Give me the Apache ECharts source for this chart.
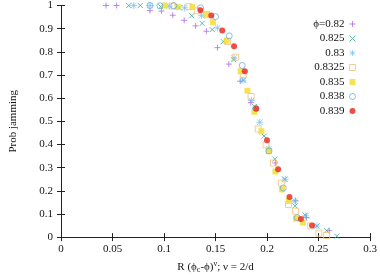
<!DOCTYPE html>
<html>
<head>
<meta charset="utf-8">
<script src="https://cdn.jsdelivr.net/npm/echarts@6/dist/echarts.min.js"></script>
<style>html,body{margin:0;padding:0;background:#fff}#c{width:380px;height:279px}</style>
</head>
<body>
<div id="c"></div>
<script>
// ---- data ----
const xTicks = [0, 0.05, 0.1, 0.15, 0.2, 0.25, 0.3];
const yTicks = [0, 0.1, 0.2, 0.3, 0.4, 0.5, 0.6, 0.7, 0.8, 0.9, 1];
const seriesNames = ['\u03d5=0.82', '0.825', '0.83', '0.8325', '0.835', '0.838', '0.839'];

const phi0820X = [0.0437, 0.054, 0.0864, 0.0975, 0.1085, 0.1196, 0.1307, 0.1411, 0.1519, 0.163, 0.174, 0.1842, 0.208, 0.2275, 0.2383, 0.2604];
const phi0820Y = [1.0, 1.0, 0.978, 0.976, 0.958, 0.936, 0.912, 0.889, 0.818, 0.747, 0.673, 0.581, 0.32, 0.157, 0.084, 0.028];

const phi0825X = [0.0658, 0.077, 0.0968, 0.115, 0.1269, 0.137, 0.1468, 0.1576, 0.1677, 0.1772, 0.188, 0.1972, 0.2076, 0.2171, 0.2272, 0.237, 0.2484, 0.2579, 0.2677];
const phi0825Y = [1.0, 1.0, 0.995, 0.99, 0.956, 0.923, 0.896, 0.844, 0.766, 0.678, 0.564, 0.436, 0.337, 0.25, 0.135, 0.095, 0.048, 0.028, 0.004];

const phi0830X = [0.0706, 0.0864, 0.105, 0.12, 0.1364, 0.152, 0.168, 0.1766, 0.185, 0.193, 0.2019, 0.2177, 0.2272, 0.2376, 0.2484];
const phi0830Y = [1.0, 1.0, 0.997, 0.99, 0.956, 0.903, 0.773, 0.677, 0.59, 0.496, 0.382, 0.25, 0.156, 0.092, 0.048];

const phi08325X = [0.108, 0.124, 0.1323, 0.1417, 0.1617, 0.1696, 0.1769, 0.1845, 0.1915, 0.199, 0.2063, 0.2139, 0.2209, 0.2278, 0.2424, 0.2503, 0.2579];
const phi08325Y = [0.998, 0.995, 0.977, 0.96, 0.845, 0.777, 0.703, 0.607, 0.467, 0.398, 0.32, 0.233, 0.141, 0.112, 0.048, 0.017, 0.007];

const phi0835X = [0.1006, 0.1133, 0.1275, 0.141, 0.1475, 0.1608, 0.1744, 0.181, 0.1877, 0.1946, 0.2016, 0.2082, 0.2146, 0.2212, 0.2281, 0.2348];
const phi0835Y = [1.0, 0.994, 0.993, 0.962, 0.928, 0.848, 0.716, 0.632, 0.541, 0.457, 0.371, 0.283, 0.206, 0.156, 0.080, 0.0625];

const phi0838X = [0.0864, 0.096, 0.1095, 0.1355, 0.15, 0.1633, 0.1759, 0.189, 0.2019, 0.2158, 0.2294];
const phi0838Y = [1.0, 0.999, 0.999, 0.99, 0.952, 0.869, 0.741, 0.557, 0.372, 0.212, 0.084];

const phi0839X = [0.1354, 0.1459, 0.1566, 0.168, 0.1785, 0.1896, 0.2, 0.2108, 0.2218, 0.2329, 0.2437];
const phi0839Y = [0.979, 0.957, 0.892, 0.824, 0.716, 0.554, 0.418, 0.293, 0.173, 0.078, 0.050];

// ---- styling ----
const FONT = 'Liberation Serif';
const PLUS = 'path://M0,5L10,5M5,0L5,10';
const CROSS = 'path://M0,0L10,10M10,0L0,10';
const STAR = 'path://M0,5L10,5M5,0L5,10M1,1L9,9M9,1L1,9';
const NOFILL = 'rgba(255,255,255,0)';

const zip = (xs, ys) => xs.map((x, i) => [x, ys[i]]);
const allX = [phi0820X, phi0825X, phi0830X, phi08325X, phi0835X, phi0838X, phi0839X];
const allY = [phi0820Y, phi0825Y, phi0830Y, phi08325Y, phi0835Y, phi0838Y, phi0839Y];
const styles = [
  {symbol: PLUS, size: 6, itemStyle: {color: NOFILL, borderColor: '#b36ae0', borderWidth: 1}},
  {symbol: CROSS, size: 5, itemStyle: {color: NOFILL, borderColor: '#3aae8c', borderWidth: 1}},
  {symbol: STAR, size: 7, itemStyle: {color: NOFILL, borderColor: '#6cbdec', borderWidth: 0.8}},
  {symbol: 'rect', size: 6, itemStyle: {color: NOFILL, borderColor: '#f0c27a', borderWidth: 1}},
  {symbol: 'rect', size: 6, itemStyle: {color: '#f2dc2a', borderWidth: 0}},
  {symbol: 'circle', size: 6, itemStyle: {color: NOFILL, borderColor: '#5ea6de', borderWidth: 0.9}},
  {symbol: 'circle', size: 6, itemStyle: {color: '#e8231a', borderWidth: 0}}
];

const series = seriesNames.map((name, i) => ({
  name: name,
  type: 'scatter',
  xAxisIndex: 0,
  yAxisIndex: 0,
  clip: false,
  symbol: styles[i].symbol,
  symbolSize: styles[i].size,
  itemStyle: styles[i].itemStyle,
  data: zip(allX[i], allY[i])
}));

const legendData = seriesNames.map((name, i) => ({
  name: name,
  icon: styles[i].symbol,
  itemStyle: Object.assign({}, styles[i].itemStyle)
}));

const axisLineStyle = {show: true, lineStyle: {color: '#222', width: 1}};
const tickStyle = {show: true, inside: true, length: 4, lineStyle: {color: '#222', width: 1}};
const labelStyle = {fontFamily: FONT, fontSize: 11, color: '#111'};

const chart = echarts.init(document.getElementById('c'), null, {renderer: 'canvas'});
chart.setOption({
  backgroundColor: '#fff',
  animation: false,
  grid: {left: 54, right: 10, top: 4, bottom: 40, containLabel: false},
  legend: {
    orient: 'vertical',
    right: 19,
    top: 13,
    align: 'right',
    itemWidth: 6,
    itemHeight: 6,
    itemGap: 2.5,
    selectedMode: false,
    data: legendData,
    textStyle: {fontFamily: FONT, fontSize: 11, color: '#111', lineHeight: 12, width: 50, align: 'right'}
  },
  xAxis: [
    {
      type: 'value', position: 'bottom', min: xTicks[0], max: xTicks[xTicks.length - 1], interval: 0.05,
      splitLine: {show: false}, axisLine: axisLineStyle, axisTick: tickStyle,
      axisLabel: Object.assign({margin: 7}, labelStyle),
      name: '{a|R (\u03d5}{sub|c}{a|-\u03d5)}{sup|\u03bd}{a|; \u03bd = 2/d}',
      nameLocation: 'middle', nameGap: 22,
      nameTextStyle: {
        fontFamily: FONT, fontSize: 11, color: '#111',
        rich: {
          a: {fontFamily: FONT, fontSize: 11, color: '#111', lineHeight: 14},
          sub: {fontFamily: FONT, fontSize: 8, color: '#111', lineHeight: 14, padding: [6, 0, 0, 0]},
          sup: {fontFamily: FONT, fontSize: 8, color: '#111', lineHeight: 14, padding: [0, 0, 6, 0]}
        }
      }
    },
    {
      type: 'value', position: 'top', min: xTicks[0], max: xTicks[xTicks.length - 1], interval: 0.05,
      splitLine: {show: false}, axisLine: axisLineStyle, axisTick: tickStyle, axisLabel: {show: false}
    }
  ],
  yAxis: [
    {
      type: 'value', position: 'left', min: yTicks[0], max: yTicks[yTicks.length - 1], interval: 0.1,
      splitLine: {show: false}, axisLine: axisLineStyle, axisTick: tickStyle,
      axisLabel: Object.assign({margin: 8}, labelStyle),
      name: 'Prob jamming', nameLocation: 'middle', nameGap: 42,
      nameTextStyle: {fontFamily: FONT, fontSize: 11, color: '#111'}
    },
    {
      type: 'value', position: 'right', min: yTicks[0], max: yTicks[yTicks.length - 1], interval: 0.1,
      splitLine: {show: false}, axisLine: axisLineStyle, axisTick: tickStyle, axisLabel: {show: false}
    }
  ],
  series: series
});
</script>
</body>
</html>
